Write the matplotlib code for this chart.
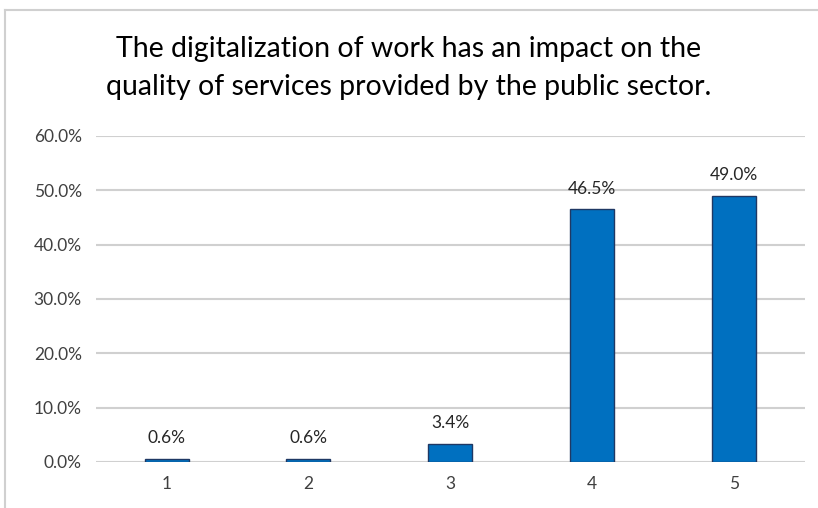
import matplotlib.pyplot as plt
from matplotlib.lines import Line2D
from matplotlib.ticker import FuncFormatter

categories = ['1', '2', '3', '4', '5']
shares = [0.6, 0.6, 3.4, 46.5, 49.0]
title = ('The digitalization of work has an impact on the\n'
         'quality of services provided by the public sector.')

plt.rcParams['font.family'] = ['Lato', 'DejaVu Sans']

fig = plt.figure(figsize=(8.18, 5.08), dpi=100)
ax = fig.add_axes([0.117, 0.0906, 0.867, 0.6417])

x = range(len(categories))
bars = ax.bar(x, shares, width=0.31, color='#0070C0', edgecolor='#1F3864',
              linewidth=1.0, zorder=3)
for b, v in zip(bars, shares):
    ax.annotate('%.1f%%' % v, (b.get_x() + b.get_width() / 2, v),
                xytext=(0, 9), textcoords='offset points',
                ha='center', va='bottom', fontsize=12.5, color='#262626')

ax.set_xlim(-0.5, len(categories) - 0.5)
ax.set_ylim(0, 60)
ax.set_yticks(range(0, 61, 10))
ax.yaxis.set_major_formatter(FuncFormatter(lambda v, p: '%.1f%%' % v))
ax.set_xticks(list(x))
ax.set_xticklabels(categories)
ax.tick_params(length=0, labelsize=12.5, labelcolor='#404040')
ax.tick_params(axis='x', pad=10)
ax.tick_params(axis='y', pad=10)
ax.grid(axis='y', color='#D0D0D0', linewidth=1.5, zorder=0)
for s in ax.spines.values():
    s.set_visible(False)

fig.text(0.5, 0.866, title, ha='center', va='center', fontsize=20.5,
         linespacing=1.55, color='#000000')

# chart area border
fig.add_artist(Line2D([5 / 818, 1], [1 - 10 / 508, 1 - 10 / 508],
                      color='#D0D0D0', linewidth=1.5))
fig.add_artist(Line2D([5 / 818, 5 / 818], [0, 1 - 10 / 508],
                      color='#D0D0D0', linewidth=1.5))

fig.savefig('out.png', dpi=100)
